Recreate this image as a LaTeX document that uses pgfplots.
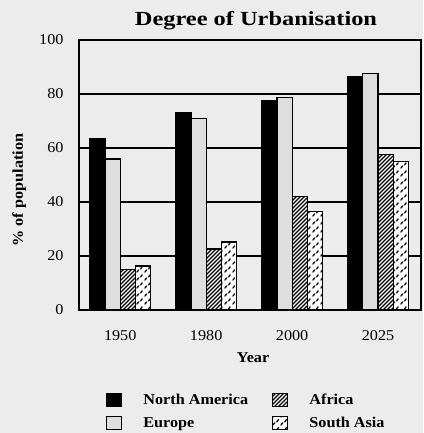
\documentclass[border=0pt]{standalone}
\usepackage{fontspec}
\setmainfont{Liberation Serif}[FakeStretch=1.08]
\newfontfamily\titlefont{Liberation Serif}[FakeStretch=1.22]
\usepackage{pgfplots}
\pgfplotsset{compat=1.18}
\usetikzlibrary{patterns}

\pgfdeclarepatternformonly{hatchA}{\pgfqpoint{-1pt}{-1pt}}{\pgfqpoint{5pt}{5pt}}{\pgfqpoint{4pt}{4pt}}{%
  \pgfsetlinewidth{1.3pt}%
  \pgfpathmoveto{\pgfqpoint{0pt}{0pt}}\pgfpathlineto{\pgfqpoint{4.1pt}{4.1pt}}\pgfusepath{stroke}}
\pgfdeclarepatternformonly{dashSA}{\pgfqpoint{0pt}{0pt}}{\pgfqpoint{8pt}{8pt}}{\pgfqpoint{8pt}{8pt}}{%
  \pgfsetlinewidth{1.3pt}\pgfsetroundcap
  \pgfpathmoveto{\pgfqpoint{1pt}{1pt}}\pgfpathlineto{\pgfqpoint{3pt}{3.5pt}}%
  \pgfpathmoveto{\pgfqpoint{5pt}{4.5pt}}\pgfpathlineto{\pgfqpoint{7pt}{7pt}}%
  \pgfusepath{stroke}}

\definecolor{paper}{RGB}{236,236,236}
\definecolor{eurogrey}{RGB}{222,222,222}

\begin{document}
\begin{tikzpicture}
\fill[paper] (0pt,0pt) rectangle (423pt,433pt);
\path[use as bounding box] (0pt,0pt) rectangle (423pt,433pt);
\begin{axis}[
  at={(79pt,123pt)}, anchor=south west,
  width=342pt, height=270pt, scale only axis,
  xmin=-0.48, xmax=3.5, ymin=0, ymax=100,
  ytick={0,20,40,60,80,100},
  xtick={0,1,2,3}, xticklabels={1950,1980,2000,2025},
  ymajorgrids, grid style={black, line width=1.2pt},
  axis line style={line width=1.8pt},
  major tick length=0pt,
  ybar=0pt, bar width=15.2pt,
  /pgf/number format/assume math mode=true,
  tick label style={font=\fontsize{15}{18}\selectfont},
  yticklabel style={xshift=-12pt},
  xticklabel style={yshift=-17pt},
  title={Degree of Urbanisation},
  title style={at={(axis description cs:0.5175,1.03)}, anchor=base,
    font=\titlefont\bfseries\fontsize{20}{24}\selectfont},
  ylabel={\% of population},
  ylabel style={at={(axis description cs:-0.175,0.444)}, anchor=center,
    font=\bfseries\fontsize{15}{18}\selectfont},
  xlabel={Year},
  xlabel style={at={(axis description cs:0.509,-0.196)}, anchor=base,
    font=\bfseries\fontsize{15}{18}\selectfont},
  legend columns=2,
  transpose legend,
  legend cell align=left,
  legend image code/.code={\draw[#1, line width=1.2pt] (0pt,-6.5pt) rectangle (15pt,6.5pt);},
  legend style={draw=none, fill=none, at={(axis description cs:0.079,-0.3)},
    anchor=north west, inner sep=0pt,
    font=\bfseries\fontsize{15}{18}\selectfont,
    nodes={inner sep=2pt, text height=11pt, text depth=3pt},
    row sep=5pt,
    /tikz/every odd column/.append style={column sep=19pt},
    /tikz/every even column/.append style={column sep=22pt}},
]
\addplot[draw=black, line width=1.2pt, fill=black]
  coordinates {(0,63.4) (1,73.0) (2,77.7) (3,86.6)};
\addplot[draw=black, line width=1.2pt, fill=eurogrey]
  coordinates {(0,55.9) (1,71.0) (2,78.6) (3,87.5)};
\addplot[draw=black, line width=1.2pt, fill=white, postaction={pattern=hatchA}]
  coordinates {(0,14.9) (1,22.6) (2,42.1) (3,57.7)};
\addplot[draw=black, line width=1.2pt, fill=white, postaction={pattern=dashSA}]
  coordinates {(0,16.3) (1,25.2) (2,36.5) (3,55.0)};
\legend{North America, Europe, Africa, South Asia}
\end{axis}
\end{tikzpicture}
\end{document}
